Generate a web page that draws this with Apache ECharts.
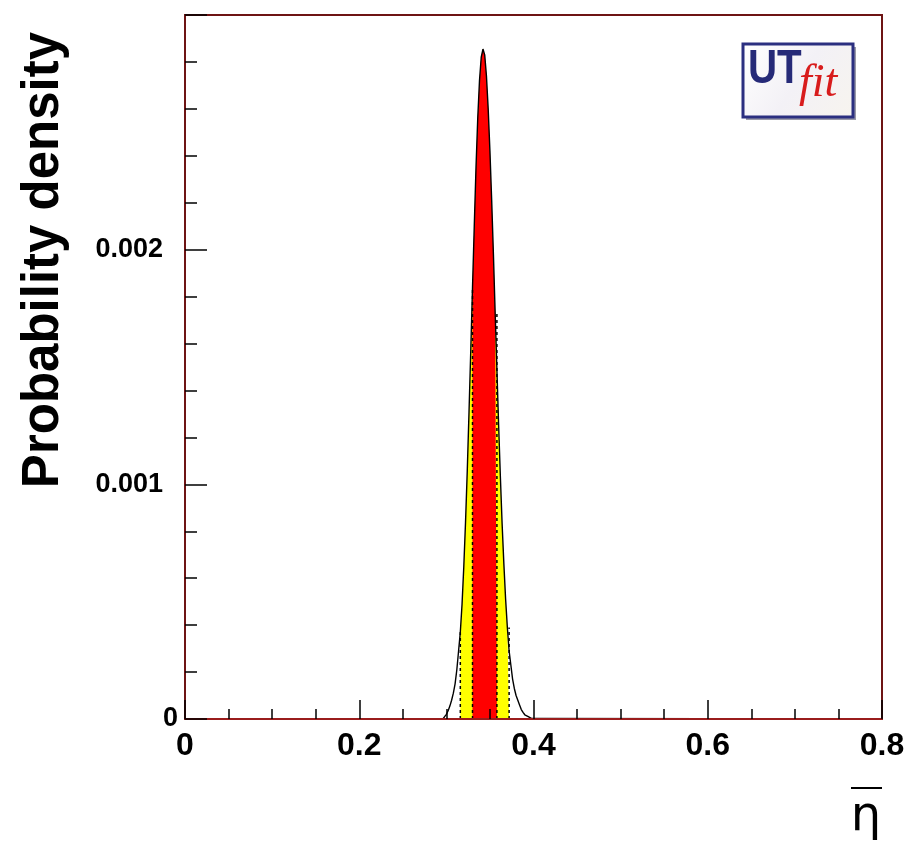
<!DOCTYPE html>
<html>
<head>
<meta charset="utf-8">
<script src="https://cdn.jsdelivr.net/npm/echarts@6/dist/echarts.min.js"></script>
<style>
html,body{margin:0;padding:0;background:#fff;}
#chart{width:908px;height:844px;}
</style>
</head>
<body>
<div id="chart"></div>
<script>
// ---- data ----
const binStart = 0.296;
const binWidth = 0.002;
// probability density per bin, in units of 1e-3
const densityE3 = [
  0.004, 0.010, 0.020, 0.035, 0.055, 0.080, 0.11, 0.15, 0.21, 0.29,
  0.37, 0.49, 0.65, 0.84, 1.06, 1.31, 1.57, 1.84, 2.10, 2.35,
  2.56, 2.72, 2.82, 2.855, 2.83, 2.74, 2.60, 2.42, 2.21, 1.98,
  1.73, 1.49, 1.25, 1.03, 0.83, 0.66, 0.51, 0.39, 0.29, 0.23,
  0.17, 0.13, 0.10, 0.08, 0.06, 0.04, 0.028, 0.018, 0.010, 0.005,
  0.002
];
const range68 = [0.330, 0.358];
const range95 = [0.316, 0.372];
const xMin = 0, xMax = 0.8, xInterval = 0.2;
const yMin = 0, yMax = 0.003, yInterval = 0.001;
const yTitle = 'Probability density';
const xTitle = 'η';

// ---- derived ----
const eps = 1e-9;
const bins = densityE3.map((v, i) => {
  const x0 = +(binStart + i * binWidth).toFixed(4);
  const x1 = +(x0 + binWidth).toFixed(4);
  return [x0, x1, v * 1e-3];
});
function regionSteps(r) {
  const inside = bins.filter(b => b[0] >= r[0] - eps && b[1] <= r[1] + eps);
  const pts = inside.map(b => [b[0], b[2]]);
  pts.push([inside[inside.length - 1][1], inside[inside.length - 1][2]]);
  return pts;
}
const fill95 = regionSteps(range95);
const fill68 = regionSteps(range68);
const outline = [[xMin, 0]].concat(bins.map(b => [b[0], b[2]]))
  .concat([[bins[bins.length - 1][1], 0], [xMax, 0]]);
function binAtLeft(x) { return bins.find(b => Math.abs(b[0] - x) < eps); }
function binAtRight(x) { return bins.find(b => Math.abs(b[1] - x) < eps); }
const dashLines = [
  [range95[0], binAtLeft(range95[0])[2]],
  [range68[0], binAtLeft(range68[0])[2]],
  [range68[1], binAtRight(range68[1])[2]],
  [range95[1], binAtRight(range95[1])[2]]
];

const frameColor = '#6e1414';
const labelFont = 'Liberation Sans';
const chart = echarts.init(document.getElementById('chart'), null, {renderer: 'canvas'});
chart.setOption({
  backgroundColor: '#ffffff',
  animation: false,
  grid: {left: 185, top: 15, right: 26, bottom: 125, show: true, borderColor: frameColor, borderWidth: 2, backgroundColor: 'transparent'},
  xAxis: {
    type: 'value', min: xMin, max: xMax, interval: xInterval, z: 10,
    axisLine: {lineStyle: {color: '#9a1c1c', width: 2}},
    axisTick: {inside: true, length: 19, lineStyle: {color: '#000', width: 1.5}},
    minorTick: {show: true, splitNumber: 4, length: 10, lineStyle: {color: '#000', width: 1.5}},
    splitLine: {show: false},
    axisLabel: {
      margin: 11, color: '#000', fontSize: 32, fontWeight: 'bold', fontFamily: labelFont,
      formatter: v => (v === 0 ? '0' : v.toFixed(1))
    }
  },
  yAxis: [{
    type: 'value', min: yMin, max: yMax, interval: yInterval, z: 10,
    axisLine: {lineStyle: {color: frameColor, width: 2}},
    axisTick: {inside: true, length: 22, lineStyle: {color: '#000', width: 1.5}},
    minorTick: {show: true, splitNumber: 5, length: 12, lineStyle: {color: '#000', width: 1.5}},
    splitLine: {show: false},
    axisLabel: {
      margin: 22, color: '#000', fontSize: 27, fontWeight: 'bold', fontFamily: labelFont,
      formatter: v => (v <= 0 || v >= yMax - eps ? '' : v.toFixed(3))
    }
  }, {
    type: 'value', min: yMin, max: yMax, interval: yMax, position: 'left',
    axisLine: {show: false}, axisTick: {show: false}, splitLine: {show: false},
    axisLabel: {
      margin: 7, color: '#000', fontSize: 27, fontWeight: 'bold', fontFamily: labelFont,
      formatter: v => (v === 0 ? '0' : '')
    }
  }],
  series: [
    {
      type: 'line', z: 1, silent: true, step: 'end', symbol: 'none',
      data: fill95,
      lineStyle: {width: 0},
      areaStyle: {color: '#ffff00', opacity: 1}
    },
    {
      type: 'line', z: 2, silent: true, step: 'end', symbol: 'none',
      data: fill68,
      lineStyle: {width: 0},
      areaStyle: {color: '#ff0000', opacity: 1}
    },
    {
      type: 'custom', z: 3, silent: true,
      data: dashLines,
      renderItem: (params, api) => {
        const p0 = api.coord([api.value(0), 0]);
        const p1 = api.coord([api.value(0), api.value(1)]);
        return {
          type: 'line',
          shape: {x1: p0[0], y1: p0[1], x2: p1[0], y2: p1[1]},
          style: {stroke: '#000', lineWidth: 1.5, lineDash: [3, 3]}
        };
      }
    },
    {
      type: 'line', z: 4, silent: true, step: 'end', symbol: 'none',
      data: outline,
      lineStyle: {color: '#000', width: 1.4}
    }
  ],
  graphic: [
    {
      type: 'text', x: 44, y: 260, rotation: Math.PI / 2,
      style: {text: yTitle, fill: '#000', font: 'bold 51px "Liberation Sans"', align: 'center', verticalAlign: 'middle'}
    },
    {
      type: 'text', x: 866, y: 842,
      style: {text: xTitle, fill: '#000', font: '48px "DejaVu Sans"', align: 'center', verticalAlign: 'bottom'}
    },
    {
      type: 'line', shape: {x1: 851, y1: 788, x2: 882, y2: 788},
      style: {stroke: '#000', lineWidth: 2}
    },
    {
      type: 'rect', shape: {x: 746, y: 47, width: 110, height: 73},
      style: {fill: '#9a9aa8'}
    },
    {
      type: 'rect', shape: {x: 743, y: 44, width: 110, height: 73},
      style: {
        fill: new echarts.graphic.LinearGradient(0, 0, 1, 1, [
          {offset: 0, color: '#ffffff'}, {offset: 0.5, color: '#f3f1f6'}, {offset: 1, color: '#f7f4ee'}
        ]),
        stroke: '#2b2f80', lineWidth: 3
      }
    },
    {
      type: 'text', x: 748, y: 46, scaleX: 0.84,
      style: {text: 'UT', fill: '#262a78', font: 'bold 48px "Liberation Sans"', verticalAlign: 'top'}
    },
    {
      type: 'text', x: 799, y: 61,
      style: {text: 'fit', fill: '#d81c1c', font: 'italic 46px "Liberation Serif"', verticalAlign: 'top'}
    }
  ]
});
</script>
</body>
</html>
